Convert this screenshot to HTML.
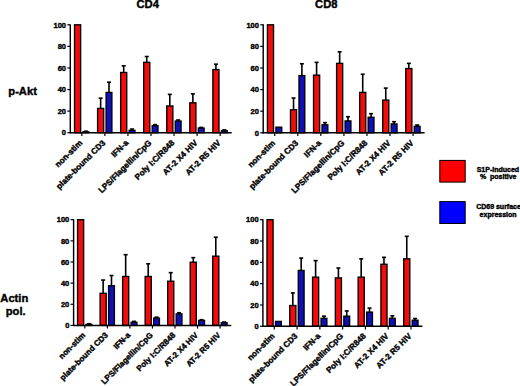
<!DOCTYPE html>
<html><head><meta charset="utf-8"><style>
html,body{margin:0;padding:0;background:#fff;}
body{width:520px;height:386px;overflow:hidden;position:relative;}
svg{position:absolute;left:0;top:0;}
text{font-family:"Liberation Sans", sans-serif;font-weight:bold;fill:#000;stroke:#000;stroke-width:0.4px;}
.t{font-size:7.5px;}
.xl{font-size:8.2px;}
.h{font-size:11.2px;}
.lg{font-size:7px;}
</style></head><body>
<svg width="520" height="386" viewBox="0 0 520 386">
<text x="147.7" y="8.3" text-anchor="middle" class="h">CD4</text>
<text x="326.3" y="8.3" text-anchor="middle" class="h">CD8</text>
<text x="22.6" y="95.2" text-anchor="middle" class="h">p-Akt</text>
<text x="14.3" y="302.1" text-anchor="middle" class="h">Actin</text>
<text x="15.7" y="314.6" text-anchor="middle" class="h">pol.</text>
<rect x="74.53" y="24.8" width="6.1" height="107.9" fill="#f20c0c" stroke="#000" stroke-width="1.35"/>
<line x1="85.93" y1="131.84" x2="85.93" y2="131.19" stroke="#000" stroke-width="1.6"/>
<line x1="83.93" y1="131.19" x2="87.93" y2="131.19" stroke="#000" stroke-width="1.6"/>
<rect x="83.03" y="131.84" width="5.8" height="0.86" fill="#1010b8" stroke="#000" stroke-width="1.35"/>
<line x1="100.64" y1="108.42" x2="100.64" y2="98.17" stroke="#000" stroke-width="1.6"/>
<line x1="98.64" y1="98.17" x2="102.64" y2="98.17" stroke="#000" stroke-width="1.6"/>
<rect x="97.59" y="108.42" width="6.1" height="24.28" fill="#f20c0c" stroke="#000" stroke-width="1.35"/>
<line x1="108.99" y1="92.45" x2="108.99" y2="82.2" stroke="#000" stroke-width="1.6"/>
<line x1="106.99" y1="82.2" x2="110.99" y2="82.2" stroke="#000" stroke-width="1.6"/>
<rect x="106.09" y="92.45" width="5.8" height="40.25" fill="#1010b8" stroke="#000" stroke-width="1.35"/>
<line x1="123.69" y1="72.49" x2="123.69" y2="65.8" stroke="#000" stroke-width="1.6"/>
<line x1="121.69" y1="65.8" x2="125.69" y2="65.8" stroke="#000" stroke-width="1.6"/>
<rect x="120.64" y="72.49" width="6.1" height="60.21" fill="#f20c0c" stroke="#000" stroke-width="1.35"/>
<line x1="132.04" y1="130.33" x2="132.04" y2="129.03" stroke="#000" stroke-width="1.6"/>
<line x1="130.04" y1="129.03" x2="134.04" y2="129.03" stroke="#000" stroke-width="1.6"/>
<rect x="129.14" y="130.33" width="5.8" height="2.37" fill="#1010b8" stroke="#000" stroke-width="1.35"/>
<line x1="146.75" y1="62.35" x2="146.75" y2="56.52" stroke="#000" stroke-width="1.6"/>
<line x1="144.75" y1="56.52" x2="148.75" y2="56.52" stroke="#000" stroke-width="1.6"/>
<rect x="143.7" y="62.35" width="6.1" height="70.35" fill="#f20c0c" stroke="#000" stroke-width="1.35"/>
<line x1="155.1" y1="125.69" x2="155.1" y2="124.61" stroke="#000" stroke-width="1.6"/>
<line x1="153.1" y1="124.61" x2="157.1" y2="124.61" stroke="#000" stroke-width="1.6"/>
<rect x="152.2" y="125.69" width="5.8" height="7.01" fill="#1010b8" stroke="#000" stroke-width="1.35"/>
<line x1="169.81" y1="105.94" x2="169.81" y2="94.4" stroke="#000" stroke-width="1.6"/>
<line x1="167.81" y1="94.4" x2="171.81" y2="94.4" stroke="#000" stroke-width="1.6"/>
<rect x="166.76" y="105.94" width="6.1" height="26.76" fill="#f20c0c" stroke="#000" stroke-width="1.35"/>
<line x1="178.16" y1="121.05" x2="178.16" y2="119.97" stroke="#000" stroke-width="1.6"/>
<line x1="176.16" y1="119.97" x2="180.16" y2="119.97" stroke="#000" stroke-width="1.6"/>
<rect x="175.26" y="121.05" width="5.8" height="11.65" fill="#1010b8" stroke="#000" stroke-width="1.35"/>
<line x1="192.86" y1="102.81" x2="192.86" y2="93.86" stroke="#000" stroke-width="1.6"/>
<line x1="190.86" y1="93.86" x2="194.86" y2="93.86" stroke="#000" stroke-width="1.6"/>
<rect x="189.81" y="102.81" width="6.1" height="29.89" fill="#f20c0c" stroke="#000" stroke-width="1.35"/>
<line x1="201.21" y1="128.06" x2="201.21" y2="127.41" stroke="#000" stroke-width="1.6"/>
<line x1="199.21" y1="127.41" x2="203.21" y2="127.41" stroke="#000" stroke-width="1.6"/>
<rect x="198.31" y="128.06" width="5.8" height="4.64" fill="#1010b8" stroke="#000" stroke-width="1.35"/>
<line x1="215.92" y1="69.58" x2="215.92" y2="64.18" stroke="#000" stroke-width="1.6"/>
<line x1="213.92" y1="64.18" x2="217.92" y2="64.18" stroke="#000" stroke-width="1.6"/>
<rect x="212.87" y="69.58" width="6.1" height="63.12" fill="#f20c0c" stroke="#000" stroke-width="1.35"/>
<line x1="224.27" y1="130.76" x2="224.27" y2="129.89" stroke="#000" stroke-width="1.6"/>
<line x1="222.27" y1="129.89" x2="226.27" y2="129.89" stroke="#000" stroke-width="1.6"/>
<rect x="221.37" y="130.76" width="5.8" height="1.94" fill="#1010b8" stroke="#000" stroke-width="1.35"/>
<line x1="70.3" y1="24.3" x2="70.3" y2="133.3" stroke="#000" stroke-width="1.45"/>
<line x1="69.7" y1="132.7" x2="231.7" y2="132.7" stroke="#000" stroke-width="1.5"/>
<line x1="67.3" y1="132.7" x2="70.3" y2="132.7" stroke="#000" stroke-width="1.2"/>
<text x="66" y="135.4" text-anchor="end" class="t">0</text>
<line x1="67.3" y1="111.12" x2="70.3" y2="111.12" stroke="#000" stroke-width="1.2"/>
<text x="66" y="113.82" text-anchor="end" class="t">20</text>
<line x1="67.3" y1="89.54" x2="70.3" y2="89.54" stroke="#000" stroke-width="1.2"/>
<text x="66" y="92.24" text-anchor="end" class="t">40</text>
<line x1="67.3" y1="67.96" x2="70.3" y2="67.96" stroke="#000" stroke-width="1.2"/>
<text x="66" y="70.66" text-anchor="end" class="t">60</text>
<line x1="67.3" y1="46.38" x2="70.3" y2="46.38" stroke="#000" stroke-width="1.2"/>
<text x="66" y="49.08" text-anchor="end" class="t">80</text>
<line x1="67.3" y1="24.8" x2="70.3" y2="24.8" stroke="#000" stroke-width="1.2"/>
<text x="66" y="27.5" text-anchor="end" class="t">100</text>
<line x1="81.83" y1="132.7" x2="81.83" y2="135.9" stroke="#000" stroke-width="1.2"/>
<text x="82.83" y="143.4" text-anchor="end" class="xl" style="font-size:8.2px" transform="rotate(-45 82.83 143.4)">non-stim</text>
<line x1="104.89" y1="132.7" x2="104.89" y2="135.9" stroke="#000" stroke-width="1.2"/>
<text x="105.89" y="143.4" text-anchor="end" class="xl" style="font-size:8.2px" transform="rotate(-45 105.89 143.4)">plate-bound CD3</text>
<line x1="127.94" y1="132.7" x2="127.94" y2="135.9" stroke="#000" stroke-width="1.2"/>
<text x="128.94" y="143.4" text-anchor="end" class="xl" style="font-size:8.2px" transform="rotate(-45 128.94 143.4)">IFN-a</text>
<line x1="151" y1="132.7" x2="151" y2="135.9" stroke="#000" stroke-width="1.2"/>
<text x="152" y="143.4" text-anchor="end" class="xl" style="font-size:8.2px" transform="rotate(-45 152 143.4)">LPS/Flagellin/CpG</text>
<line x1="174.06" y1="132.7" x2="174.06" y2="135.9" stroke="#000" stroke-width="1.2"/>
<text x="175.06" y="143.4" text-anchor="end" class="xl" style="font-size:8.2px" transform="rotate(-45 175.06 143.4)">Poly I:C/R848</text>
<line x1="197.11" y1="132.7" x2="197.11" y2="135.9" stroke="#000" stroke-width="1.2"/>
<text x="198.11" y="143.4" text-anchor="end" class="xl" style="font-size:8.2px" transform="rotate(-45 198.11 143.4)">AT-2 X4 HIV</text>
<line x1="220.17" y1="132.7" x2="220.17" y2="135.9" stroke="#000" stroke-width="1.2"/>
<text x="221.17" y="143.4" text-anchor="end" class="xl" style="font-size:8.2px" transform="rotate(-45 221.17 143.4)">AT-2 R5 HIV</text>
<rect x="267.43" y="24.8" width="6.1" height="108" fill="#f20c0c" stroke="#000" stroke-width="1.35"/>
<rect x="275.93" y="127.18" width="5.8" height="5.62" fill="#1010b8" stroke="#000" stroke-width="1.35"/>
<line x1="293.54" y1="109.8" x2="293.54" y2="98.02" stroke="#000" stroke-width="1.6"/>
<line x1="291.54" y1="98.02" x2="295.54" y2="98.02" stroke="#000" stroke-width="1.6"/>
<rect x="290.49" y="109.8" width="6.1" height="23" fill="#f20c0c" stroke="#000" stroke-width="1.35"/>
<line x1="301.89" y1="75.56" x2="301.89" y2="63.79" stroke="#000" stroke-width="1.6"/>
<line x1="299.89" y1="63.79" x2="303.89" y2="63.79" stroke="#000" stroke-width="1.6"/>
<rect x="298.99" y="75.56" width="5.8" height="57.24" fill="#1010b8" stroke="#000" stroke-width="1.35"/>
<line x1="316.59" y1="75.13" x2="316.59" y2="62.38" stroke="#000" stroke-width="1.6"/>
<line x1="314.59" y1="62.38" x2="318.59" y2="62.38" stroke="#000" stroke-width="1.6"/>
<rect x="313.54" y="75.13" width="6.1" height="57.67" fill="#f20c0c" stroke="#000" stroke-width="1.35"/>
<line x1="324.94" y1="124.81" x2="324.94" y2="122.65" stroke="#000" stroke-width="1.6"/>
<line x1="322.94" y1="122.65" x2="326.94" y2="122.65" stroke="#000" stroke-width="1.6"/>
<rect x="322.04" y="124.81" width="5.8" height="7.99" fill="#1010b8" stroke="#000" stroke-width="1.35"/>
<line x1="339.65" y1="63.36" x2="339.65" y2="51.8" stroke="#000" stroke-width="1.6"/>
<line x1="337.65" y1="51.8" x2="341.65" y2="51.8" stroke="#000" stroke-width="1.6"/>
<rect x="336.6" y="63.36" width="6.1" height="69.44" fill="#f20c0c" stroke="#000" stroke-width="1.35"/>
<line x1="348" y1="120.92" x2="348" y2="116.71" stroke="#000" stroke-width="1.6"/>
<line x1="346" y1="116.71" x2="350" y2="116.71" stroke="#000" stroke-width="1.6"/>
<rect x="345.1" y="120.92" width="5.8" height="11.88" fill="#1010b8" stroke="#000" stroke-width="1.35"/>
<line x1="362.71" y1="92.41" x2="362.71" y2="74.26" stroke="#000" stroke-width="1.6"/>
<line x1="360.71" y1="74.26" x2="364.71" y2="74.26" stroke="#000" stroke-width="1.6"/>
<rect x="359.66" y="92.41" width="6.1" height="40.39" fill="#f20c0c" stroke="#000" stroke-width="1.35"/>
<line x1="371.06" y1="117.25" x2="371.06" y2="113.68" stroke="#000" stroke-width="1.6"/>
<line x1="369.06" y1="113.68" x2="373.06" y2="113.68" stroke="#000" stroke-width="1.6"/>
<rect x="368.16" y="117.25" width="5.8" height="15.55" fill="#1010b8" stroke="#000" stroke-width="1.35"/>
<line x1="385.76" y1="100.08" x2="385.76" y2="88.09" stroke="#000" stroke-width="1.6"/>
<line x1="383.76" y1="88.09" x2="387.76" y2="88.09" stroke="#000" stroke-width="1.6"/>
<rect x="382.71" y="100.08" width="6.1" height="32.72" fill="#f20c0c" stroke="#000" stroke-width="1.35"/>
<line x1="394.11" y1="123.94" x2="394.11" y2="121.68" stroke="#000" stroke-width="1.6"/>
<line x1="392.11" y1="121.68" x2="396.11" y2="121.68" stroke="#000" stroke-width="1.6"/>
<rect x="391.21" y="123.94" width="5.8" height="8.86" fill="#1010b8" stroke="#000" stroke-width="1.35"/>
<line x1="408.82" y1="68.54" x2="408.82" y2="63.36" stroke="#000" stroke-width="1.6"/>
<line x1="406.82" y1="63.36" x2="410.82" y2="63.36" stroke="#000" stroke-width="1.6"/>
<rect x="405.77" y="68.54" width="6.1" height="64.26" fill="#f20c0c" stroke="#000" stroke-width="1.35"/>
<line x1="417.17" y1="126.32" x2="417.17" y2="125.02" stroke="#000" stroke-width="1.6"/>
<line x1="415.17" y1="125.02" x2="419.17" y2="125.02" stroke="#000" stroke-width="1.6"/>
<rect x="414.27" y="126.32" width="5.8" height="6.48" fill="#1010b8" stroke="#000" stroke-width="1.35"/>
<line x1="263.2" y1="24.3" x2="263.2" y2="133.4" stroke="#000" stroke-width="1.45"/>
<line x1="262.6" y1="132.8" x2="424.6" y2="132.8" stroke="#000" stroke-width="1.5"/>
<line x1="260.2" y1="132.8" x2="263.2" y2="132.8" stroke="#000" stroke-width="1.2"/>
<text x="258.9" y="135.5" text-anchor="end" class="t">0</text>
<line x1="260.2" y1="111.2" x2="263.2" y2="111.2" stroke="#000" stroke-width="1.2"/>
<text x="258.9" y="113.9" text-anchor="end" class="t">20</text>
<line x1="260.2" y1="89.6" x2="263.2" y2="89.6" stroke="#000" stroke-width="1.2"/>
<text x="258.9" y="92.3" text-anchor="end" class="t">40</text>
<line x1="260.2" y1="68" x2="263.2" y2="68" stroke="#000" stroke-width="1.2"/>
<text x="258.9" y="70.7" text-anchor="end" class="t">60</text>
<line x1="260.2" y1="46.4" x2="263.2" y2="46.4" stroke="#000" stroke-width="1.2"/>
<text x="258.9" y="49.1" text-anchor="end" class="t">80</text>
<line x1="260.2" y1="24.8" x2="263.2" y2="24.8" stroke="#000" stroke-width="1.2"/>
<text x="258.9" y="27.5" text-anchor="end" class="t">100</text>
<line x1="274.73" y1="132.8" x2="274.73" y2="136" stroke="#000" stroke-width="1.2"/>
<text x="275.73" y="143.5" text-anchor="end" class="xl" style="font-size:8.2px" transform="rotate(-45 275.73 143.5)">non-stim</text>
<line x1="297.79" y1="132.8" x2="297.79" y2="136" stroke="#000" stroke-width="1.2"/>
<text x="298.79" y="143.5" text-anchor="end" class="xl" style="font-size:8.2px" transform="rotate(-45 298.79 143.5)">plate-bound CD3</text>
<line x1="320.84" y1="132.8" x2="320.84" y2="136" stroke="#000" stroke-width="1.2"/>
<text x="321.84" y="143.5" text-anchor="end" class="xl" style="font-size:8.2px" transform="rotate(-45 321.84 143.5)">IFN-a</text>
<line x1="343.9" y1="132.8" x2="343.9" y2="136" stroke="#000" stroke-width="1.2"/>
<text x="344.9" y="143.5" text-anchor="end" class="xl" style="font-size:8.2px" transform="rotate(-45 344.9 143.5)">LPS/Flagellin/CpG</text>
<line x1="366.96" y1="132.8" x2="366.96" y2="136" stroke="#000" stroke-width="1.2"/>
<text x="367.96" y="143.5" text-anchor="end" class="xl" style="font-size:8.2px" transform="rotate(-45 367.96 143.5)">Poly I:C/R848</text>
<line x1="390.01" y1="132.8" x2="390.01" y2="136" stroke="#000" stroke-width="1.2"/>
<text x="391.01" y="143.5" text-anchor="end" class="xl" style="font-size:8.2px" transform="rotate(-45 391.01 143.5)">AT-2 X4 HIV</text>
<line x1="413.07" y1="132.8" x2="413.07" y2="136" stroke="#000" stroke-width="1.2"/>
<text x="414.07" y="143.5" text-anchor="end" class="xl" style="font-size:8.2px" transform="rotate(-45 414.07 143.5)">AT-2 R5 HIV</text>
<rect x="77.56" y="219.7" width="6.1" height="105.7" fill="#f20c0c" stroke="#000" stroke-width="1.35"/>
<line x1="88.96" y1="324.34" x2="88.96" y2="323.71" stroke="#000" stroke-width="1.6"/>
<line x1="86.96" y1="323.71" x2="90.96" y2="323.71" stroke="#000" stroke-width="1.6"/>
<rect x="86.06" y="324.34" width="5.8" height="1.06" fill="#1010b8" stroke="#000" stroke-width="1.35"/>
<line x1="103.14" y1="293.27" x2="103.14" y2="280.05" stroke="#000" stroke-width="1.6"/>
<line x1="101.14" y1="280.05" x2="105.14" y2="280.05" stroke="#000" stroke-width="1.6"/>
<rect x="100.09" y="293.27" width="6.1" height="32.13" fill="#f20c0c" stroke="#000" stroke-width="1.35"/>
<line x1="111.49" y1="285.66" x2="111.49" y2="275.51" stroke="#000" stroke-width="1.6"/>
<line x1="109.49" y1="275.51" x2="113.49" y2="275.51" stroke="#000" stroke-width="1.6"/>
<rect x="108.59" y="285.66" width="5.8" height="39.74" fill="#1010b8" stroke="#000" stroke-width="1.35"/>
<line x1="125.67" y1="276.46" x2="125.67" y2="254.69" stroke="#000" stroke-width="1.6"/>
<line x1="123.67" y1="254.69" x2="127.67" y2="254.69" stroke="#000" stroke-width="1.6"/>
<rect x="122.62" y="276.46" width="6.1" height="48.94" fill="#f20c0c" stroke="#000" stroke-width="1.35"/>
<line x1="134.02" y1="322.23" x2="134.02" y2="321.38" stroke="#000" stroke-width="1.6"/>
<line x1="132.02" y1="321.38" x2="136.02" y2="321.38" stroke="#000" stroke-width="1.6"/>
<rect x="131.12" y="322.23" width="5.8" height="3.17" fill="#1010b8" stroke="#000" stroke-width="1.35"/>
<line x1="148.2" y1="276.46" x2="148.2" y2="263.78" stroke="#000" stroke-width="1.6"/>
<line x1="146.2" y1="263.78" x2="150.2" y2="263.78" stroke="#000" stroke-width="1.6"/>
<rect x="145.15" y="276.46" width="6.1" height="48.94" fill="#f20c0c" stroke="#000" stroke-width="1.35"/>
<line x1="156.55" y1="318.11" x2="156.55" y2="317.16" stroke="#000" stroke-width="1.6"/>
<line x1="154.55" y1="317.16" x2="158.55" y2="317.16" stroke="#000" stroke-width="1.6"/>
<rect x="153.65" y="318.11" width="5.8" height="7.29" fill="#1010b8" stroke="#000" stroke-width="1.35"/>
<line x1="170.73" y1="281.22" x2="170.73" y2="272.66" stroke="#000" stroke-width="1.6"/>
<line x1="168.73" y1="272.66" x2="172.73" y2="272.66" stroke="#000" stroke-width="1.6"/>
<rect x="167.68" y="281.22" width="6.1" height="44.18" fill="#f20c0c" stroke="#000" stroke-width="1.35"/>
<line x1="179.08" y1="313.88" x2="179.08" y2="312.72" stroke="#000" stroke-width="1.6"/>
<line x1="177.08" y1="312.72" x2="181.08" y2="312.72" stroke="#000" stroke-width="1.6"/>
<rect x="176.18" y="313.88" width="5.8" height="11.52" fill="#1010b8" stroke="#000" stroke-width="1.35"/>
<line x1="193.26" y1="262.19" x2="193.26" y2="257.65" stroke="#000" stroke-width="1.6"/>
<line x1="191.26" y1="257.65" x2="195.26" y2="257.65" stroke="#000" stroke-width="1.6"/>
<rect x="190.21" y="262.19" width="6.1" height="63.21" fill="#f20c0c" stroke="#000" stroke-width="1.35"/>
<line x1="201.61" y1="320.43" x2="201.61" y2="319.69" stroke="#000" stroke-width="1.6"/>
<line x1="199.61" y1="319.69" x2="203.61" y2="319.69" stroke="#000" stroke-width="1.6"/>
<rect x="198.71" y="320.43" width="5.8" height="4.97" fill="#1010b8" stroke="#000" stroke-width="1.35"/>
<line x1="215.79" y1="256.17" x2="215.79" y2="237.25" stroke="#000" stroke-width="1.6"/>
<line x1="213.79" y1="237.25" x2="217.79" y2="237.25" stroke="#000" stroke-width="1.6"/>
<rect x="212.74" y="256.17" width="6.1" height="69.23" fill="#f20c0c" stroke="#000" stroke-width="1.35"/>
<line x1="224.14" y1="322.65" x2="224.14" y2="322.02" stroke="#000" stroke-width="1.6"/>
<line x1="222.14" y1="322.02" x2="226.14" y2="322.02" stroke="#000" stroke-width="1.6"/>
<rect x="221.24" y="322.65" width="5.8" height="2.75" fill="#1010b8" stroke="#000" stroke-width="1.35"/>
<line x1="73.6" y1="219.2" x2="73.6" y2="326" stroke="#000" stroke-width="1.45"/>
<line x1="73" y1="325.4" x2="231.3" y2="325.4" stroke="#000" stroke-width="1.5"/>
<line x1="70.6" y1="325.4" x2="73.6" y2="325.4" stroke="#000" stroke-width="1.2"/>
<text x="69.3" y="328.1" text-anchor="end" class="t">0</text>
<line x1="70.6" y1="304.26" x2="73.6" y2="304.26" stroke="#000" stroke-width="1.2"/>
<text x="69.3" y="306.96" text-anchor="end" class="t">20</text>
<line x1="70.6" y1="283.12" x2="73.6" y2="283.12" stroke="#000" stroke-width="1.2"/>
<text x="69.3" y="285.82" text-anchor="end" class="t">40</text>
<line x1="70.6" y1="261.98" x2="73.6" y2="261.98" stroke="#000" stroke-width="1.2"/>
<text x="69.3" y="264.68" text-anchor="end" class="t">60</text>
<line x1="70.6" y1="240.84" x2="73.6" y2="240.84" stroke="#000" stroke-width="1.2"/>
<text x="69.3" y="243.54" text-anchor="end" class="t">80</text>
<line x1="70.6" y1="219.7" x2="73.6" y2="219.7" stroke="#000" stroke-width="1.2"/>
<text x="69.3" y="222.4" text-anchor="end" class="t">100</text>
<line x1="84.86" y1="325.4" x2="84.86" y2="328.6" stroke="#000" stroke-width="1.2"/>
<text x="85.86" y="335.7" text-anchor="end" class="xl" style="font-size:8.0px" transform="rotate(-45 85.86 335.7)">non-stim</text>
<line x1="107.39" y1="325.4" x2="107.39" y2="328.6" stroke="#000" stroke-width="1.2"/>
<text x="108.39" y="335.7" text-anchor="end" class="xl" style="font-size:8.0px" transform="rotate(-45 108.39 335.7)">plate-bound CD3</text>
<line x1="129.92" y1="325.4" x2="129.92" y2="328.6" stroke="#000" stroke-width="1.2"/>
<text x="130.92" y="335.7" text-anchor="end" class="xl" style="font-size:8.0px" transform="rotate(-45 130.92 335.7)">IFN-a</text>
<line x1="152.45" y1="325.4" x2="152.45" y2="328.6" stroke="#000" stroke-width="1.2"/>
<text x="153.45" y="335.7" text-anchor="end" class="xl" style="font-size:8.0px" transform="rotate(-45 153.45 335.7)">LPS/Flagellin/CpG</text>
<line x1="174.98" y1="325.4" x2="174.98" y2="328.6" stroke="#000" stroke-width="1.2"/>
<text x="175.98" y="335.7" text-anchor="end" class="xl" style="font-size:8.0px" transform="rotate(-45 175.98 335.7)">Poly I:C/R848</text>
<line x1="197.51" y1="325.4" x2="197.51" y2="328.6" stroke="#000" stroke-width="1.2"/>
<text x="198.51" y="335.7" text-anchor="end" class="xl" style="font-size:8.0px" transform="rotate(-45 198.51 335.7)">AT-2 X4 HIV</text>
<line x1="220.04" y1="325.4" x2="220.04" y2="328.6" stroke="#000" stroke-width="1.2"/>
<text x="221.04" y="335.7" text-anchor="end" class="xl" style="font-size:8.0px" transform="rotate(-45 221.04 335.7)">AT-2 R5 HIV</text>
<rect x="266.99" y="219.7" width="6.1" height="106.6" fill="#f20c0c" stroke="#000" stroke-width="1.35"/>
<rect x="275.49" y="321.4" width="5.8" height="4.9" fill="#1010b8" stroke="#000" stroke-width="1.35"/>
<line x1="292.83" y1="305.51" x2="292.83" y2="292.93" stroke="#000" stroke-width="1.6"/>
<line x1="290.83" y1="292.93" x2="294.83" y2="292.93" stroke="#000" stroke-width="1.6"/>
<rect x="289.78" y="305.51" width="6.1" height="20.79" fill="#f20c0c" stroke="#000" stroke-width="1.35"/>
<line x1="301.18" y1="270.44" x2="301.18" y2="258.08" stroke="#000" stroke-width="1.6"/>
<line x1="299.18" y1="258.08" x2="303.18" y2="258.08" stroke="#000" stroke-width="1.6"/>
<rect x="298.28" y="270.44" width="5.8" height="55.86" fill="#1010b8" stroke="#000" stroke-width="1.35"/>
<line x1="315.61" y1="277.16" x2="315.61" y2="260.63" stroke="#000" stroke-width="1.6"/>
<line x1="313.61" y1="260.63" x2="317.61" y2="260.63" stroke="#000" stroke-width="1.6"/>
<rect x="312.56" y="277.16" width="6.1" height="49.14" fill="#f20c0c" stroke="#000" stroke-width="1.35"/>
<line x1="323.96" y1="318.31" x2="323.96" y2="316.17" stroke="#000" stroke-width="1.6"/>
<line x1="321.96" y1="316.17" x2="325.96" y2="316.17" stroke="#000" stroke-width="1.6"/>
<rect x="321.06" y="318.31" width="5.8" height="8" fill="#1010b8" stroke="#000" stroke-width="1.35"/>
<line x1="338.4" y1="277.9" x2="338.4" y2="267.99" stroke="#000" stroke-width="1.6"/>
<line x1="336.4" y1="267.99" x2="340.4" y2="267.99" stroke="#000" stroke-width="1.6"/>
<rect x="335.35" y="277.9" width="6.1" height="48.4" fill="#f20c0c" stroke="#000" stroke-width="1.35"/>
<line x1="346.75" y1="316.17" x2="346.75" y2="310.95" stroke="#000" stroke-width="1.6"/>
<line x1="344.75" y1="310.95" x2="348.75" y2="310.95" stroke="#000" stroke-width="1.6"/>
<rect x="343.85" y="316.17" width="5.8" height="10.13" fill="#1010b8" stroke="#000" stroke-width="1.35"/>
<line x1="361.19" y1="277.16" x2="361.19" y2="258.82" stroke="#000" stroke-width="1.6"/>
<line x1="359.19" y1="258.82" x2="363.19" y2="258.82" stroke="#000" stroke-width="1.6"/>
<rect x="358.14" y="277.16" width="6.1" height="49.14" fill="#f20c0c" stroke="#000" stroke-width="1.35"/>
<line x1="369.54" y1="312.12" x2="369.54" y2="308.07" stroke="#000" stroke-width="1.6"/>
<line x1="367.54" y1="308.07" x2="371.54" y2="308.07" stroke="#000" stroke-width="1.6"/>
<rect x="366.64" y="312.12" width="5.8" height="14.18" fill="#1010b8" stroke="#000" stroke-width="1.35"/>
<line x1="383.97" y1="264.26" x2="383.97" y2="257.33" stroke="#000" stroke-width="1.6"/>
<line x1="381.97" y1="257.33" x2="385.97" y2="257.33" stroke="#000" stroke-width="1.6"/>
<rect x="380.92" y="264.26" width="6.1" height="62.04" fill="#f20c0c" stroke="#000" stroke-width="1.35"/>
<line x1="392.32" y1="318.31" x2="392.32" y2="315.85" stroke="#000" stroke-width="1.6"/>
<line x1="390.32" y1="315.85" x2="394.32" y2="315.85" stroke="#000" stroke-width="1.6"/>
<rect x="389.42" y="318.31" width="5.8" height="8" fill="#1010b8" stroke="#000" stroke-width="1.35"/>
<line x1="406.76" y1="258.82" x2="406.76" y2="236.33" stroke="#000" stroke-width="1.6"/>
<line x1="404.76" y1="236.33" x2="408.76" y2="236.33" stroke="#000" stroke-width="1.6"/>
<rect x="403.71" y="258.82" width="6.1" height="67.48" fill="#f20c0c" stroke="#000" stroke-width="1.35"/>
<line x1="415.11" y1="320.22" x2="415.11" y2="318.52" stroke="#000" stroke-width="1.6"/>
<line x1="413.11" y1="318.52" x2="417.11" y2="318.52" stroke="#000" stroke-width="1.6"/>
<rect x="412.21" y="320.22" width="5.8" height="6.08" fill="#1010b8" stroke="#000" stroke-width="1.35"/>
<line x1="262.9" y1="219.2" x2="262.9" y2="326.9" stroke="#000" stroke-width="1.45"/>
<line x1="262.3" y1="326.3" x2="422.4" y2="326.3" stroke="#000" stroke-width="1.5"/>
<line x1="259.9" y1="326.3" x2="262.9" y2="326.3" stroke="#000" stroke-width="1.2"/>
<text x="258.6" y="329" text-anchor="end" class="t">0</text>
<line x1="259.9" y1="304.98" x2="262.9" y2="304.98" stroke="#000" stroke-width="1.2"/>
<text x="258.6" y="307.68" text-anchor="end" class="t">20</text>
<line x1="259.9" y1="283.66" x2="262.9" y2="283.66" stroke="#000" stroke-width="1.2"/>
<text x="258.6" y="286.36" text-anchor="end" class="t">40</text>
<line x1="259.9" y1="262.34" x2="262.9" y2="262.34" stroke="#000" stroke-width="1.2"/>
<text x="258.6" y="265.04" text-anchor="end" class="t">60</text>
<line x1="259.9" y1="241.02" x2="262.9" y2="241.02" stroke="#000" stroke-width="1.2"/>
<text x="258.6" y="243.72" text-anchor="end" class="t">80</text>
<line x1="259.9" y1="219.7" x2="262.9" y2="219.7" stroke="#000" stroke-width="1.2"/>
<text x="258.6" y="222.4" text-anchor="end" class="t">100</text>
<line x1="274.29" y1="326.3" x2="274.29" y2="329.5" stroke="#000" stroke-width="1.2"/>
<text x="275.29" y="336.6" text-anchor="end" class="xl" style="font-size:8.2px" transform="rotate(-45 275.29 336.6)">non-stim</text>
<line x1="297.08" y1="326.3" x2="297.08" y2="329.5" stroke="#000" stroke-width="1.2"/>
<text x="298.08" y="336.6" text-anchor="end" class="xl" style="font-size:8.2px" transform="rotate(-45 298.08 336.6)">plate-bound CD3</text>
<line x1="319.86" y1="326.3" x2="319.86" y2="329.5" stroke="#000" stroke-width="1.2"/>
<text x="320.86" y="336.6" text-anchor="end" class="xl" style="font-size:8.2px" transform="rotate(-45 320.86 336.6)">IFN-a</text>
<line x1="342.65" y1="326.3" x2="342.65" y2="329.5" stroke="#000" stroke-width="1.2"/>
<text x="343.65" y="336.6" text-anchor="end" class="xl" style="font-size:8.2px" transform="rotate(-45 343.65 336.6)">LPS/Flagellin/CpG</text>
<line x1="365.44" y1="326.3" x2="365.44" y2="329.5" stroke="#000" stroke-width="1.2"/>
<text x="366.44" y="336.6" text-anchor="end" class="xl" style="font-size:8.2px" transform="rotate(-45 366.44 336.6)">Poly I:C/R848</text>
<line x1="388.22" y1="326.3" x2="388.22" y2="329.5" stroke="#000" stroke-width="1.2"/>
<text x="389.22" y="336.6" text-anchor="end" class="xl" style="font-size:8.2px" transform="rotate(-45 389.22 336.6)">AT-2 X4 HIV</text>
<line x1="411.01" y1="326.3" x2="411.01" y2="329.5" stroke="#000" stroke-width="1.2"/>
<text x="412.01" y="336.6" text-anchor="end" class="xl" style="font-size:8.2px" transform="rotate(-45 412.01 336.6)">AT-2 R5 HIV</text>
<rect x="439.8" y="160.4" width="25.4" height="21.7" fill="#ff0000" stroke="#000" stroke-width="1"/>
<rect x="439.8" y="201.6" width="25.4" height="21.9" fill="#0000ff" stroke="#000" stroke-width="1"/>
<text x="497.9" y="171.5" text-anchor="middle" class="lg">S1P-induced</text>
<text x="498.2" y="178.6" text-anchor="middle" class="lg" xml:space="preserve">%  positive</text>
<text x="498.5" y="208.9" text-anchor="middle" class="lg">CD69 surface</text>
<text x="498.1" y="217.1" text-anchor="middle" class="lg">expression</text>
</svg>
</body></html>
